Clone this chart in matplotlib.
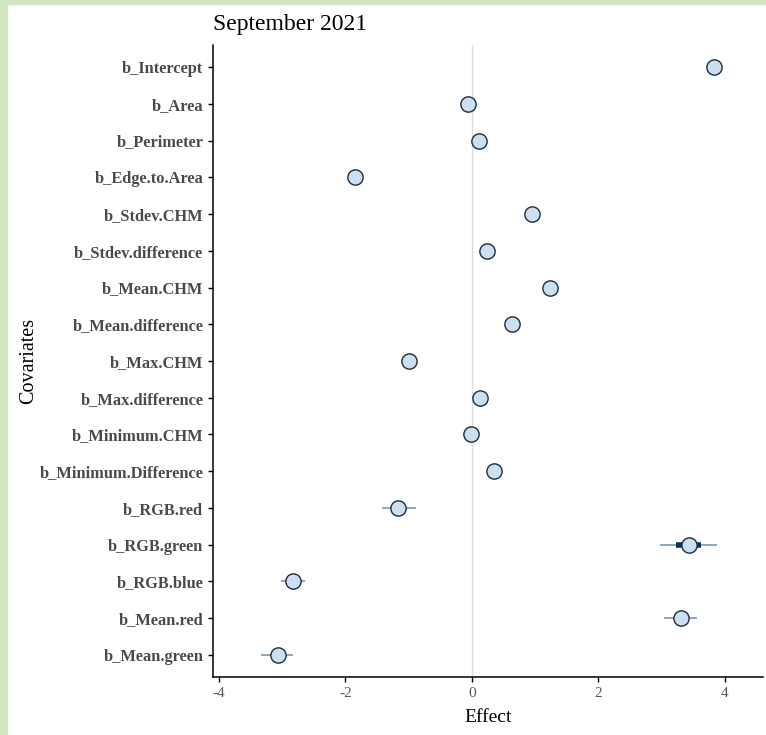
import matplotlib

matplotlib.use("Agg")
import matplotlib.pyplot as plt
from matplotlib.patches import Rectangle

covariates = [
    "b_Intercept", "b_Area", "b_Perimeter", "b_Edge.to.Area", "b_Stdev.CHM",
    "b_Stdev.difference", "b_Mean.CHM", "b_Mean.difference", "b_Max.CHM",
    "b_Max.difference", "b_Minimum.CHM", "b_Minimum.Difference", "b_RGB.red",
    "b_RGB.green", "b_RGB.blue", "b_Mean.red", "b_Mean.green",
]
estimate = [3.83, -0.06, 0.11, -1.84, 0.95, 0.24, 1.23, 0.63, -1.00,
            0.13, -0.02, 0.35, -1.16, 3.43, -2.82, 3.31, -3.07]
# outer (95%) interval
lower = [3.78, -0.11, 0.06, -1.89, 0.90, 0.19, 1.18, 0.58, -1.05,
         0.08, -0.07, 0.30, -1.42, 2.98, -3.02, 3.04, -3.33]
upper = [3.88, -0.01, 0.16, -1.79, 1.00, 0.29, 1.28, 0.68, -0.95,
         0.18, 0.03, 0.40, -0.89, 3.88, -2.63, 3.56, -2.82]
# inner (50%) interval
inner_lower = [3.81, -0.08, 0.09, -1.86, 0.93, 0.22, 1.21, 0.61, -1.02,
               0.11, -0.04, 0.33, -1.24, 3.23, -2.88, 3.23, -3.15]
inner_upper = [3.85, -0.04, 0.13, -1.82, 0.97, 0.26, 1.25, 0.65, -0.98,
               0.15, 0.00, 0.37, -1.08, 3.62, -2.76, 3.39, -2.99]

xticks = [-4, -2, 0, 2, 4]

plt.rcParams["font.family"] = ["Liberation Serif", "DejaVu Serif"]

fig = plt.figure(figsize=(7.66, 7.35), dpi=100)
fig.patches.append(Rectangle((0, 0), 7 / 766, 1, transform=fig.transFigure,
                             color="#d3e6c4", zorder=-1))
fig.patches.append(Rectangle((0, 1 - 4 / 735), 1, 4 / 735, transform=fig.transFigure,
                             color="#d3e6c4", zorder=-1))

ax = fig.add_axes([213 / 766, 1 - 677 / 735, 550 / 766, 632 / 735])

n = len(covariates)
ypos = [n - i for i in range(n)]

ax.axvline(0, color="#dcdcdc", lw=1, zorder=0)
ax.hlines(ypos, lower, upper, color="#6f8fae", lw=1.1, zorder=2)
ax.hlines(ypos, inner_lower, inner_upper, color="#0e2f5a", lw=4, zorder=3)
ax.plot(estimate, ypos, "o", ms=11, mfc="#cadff0", mec="#1f2a3a", mew=1.0,
        zorder=4, ls="none")

ax.set_xlim(-4.09, 4.6)
ax.set_ylim(0.4, n + 0.6)
ax.set_yticks(ypos)
ax.set_yticklabels(covariates, fontweight="bold", fontsize=11.8, color="#4a4a4a")
ax.set_xticks(xticks)
ax.set_xticklabels([str(t) for t in xticks], fontsize=11, color="#5a5a5a")
ax.tick_params(length=3.5, width=1, color="black")

for side in ["top", "right"]:
    ax.spines[side].set_visible(False)
for side in ["left", "bottom"]:
    ax.spines[side].set_linewidth(1.1)

ax.set_xlabel("Effect", fontsize=14, labelpad=7)
ax.set_ylabel("Covariates", fontsize=14.5)
ax.yaxis.set_label_coords(-0.318, 0.5)
ax.set_title("September 2021", fontsize=17, loc="left", pad=11)

fig.savefig("out.png", dpi=100)
